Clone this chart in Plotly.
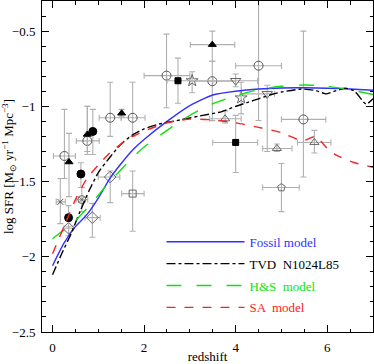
import plotly.graph_objects as go

# ---------------- model curves ----------------
fossil_z = [0, 0.25, 0.5, 0.75, 1.0, 1.25, 1.5, 1.75, 2.0, 2.5, 3.0, 3.5, 4.0, 4.5, 5.0, 5.5, 6.0, 6.5, 7.0]
fossil_v = [-2.06, -1.91, -1.80, -1.72, -1.61, -1.48, -1.38, -1.29, -1.22, -1.10, -0.995, -0.925, -0.90, -0.885,
            -0.878, -0.877, -0.88, -0.885, -0.893]

tvd_z = [0, 0.2, 0.4, 0.6, 0.8, 1.0, 1.25, 1.5, 1.75, 2.0, 2.3, 2.8, 3.2, 3.7, 4.0, 4.25, 4.5, 4.75, 5.0, 5.45,
         5.75, 5.97, 6.2, 6.4, 6.6, 6.85, 7.0]
tvd_v = [-2.12, -1.98, -1.85, -1.70, -1.56, -1.44, -1.34, -1.25, -1.19, -1.15, -1.12, -1.09, -1.065, -1.035, -1.0,
         -0.975, -0.95, -0.925, -0.905, -0.885, -0.895, -0.917, -0.895, -0.88, -0.90, -0.985, -0.95]

hs_z = [0, 0.25, 0.5, 0.75, 1.0, 1.25, 1.5, 1.75, 2.0, 2.5, 3.0, 3.5, 4.0, 4.5, 5.0, 5.5, 6.0, 6.5, 7.0]
hs_v = [-1.88, -1.82, -1.76, -1.68, -1.59, -1.50, -1.42, -1.34, -1.27, -1.16, -1.06, -0.983, -0.93, -0.89,
        -0.867, -0.858, -0.866, -0.89, -0.922]

sa_z = [0, 0.25, 0.5, 0.75, 1.0, 1.25, 1.5, 1.75, 2.0, 2.5, 3.0, 3.5, 4.0, 4.5, 5.0, 5.45, 5.6, 5.75, 6.0, 6.2,
        6.6, 7.0]
sa_v = [-1.98, -1.80, -1.62, -1.48, -1.39, -1.31, -1.25, -1.20, -1.165, -1.11, -1.085, -1.09, -1.11, -1.14,
        -1.175, -1.23, -1.215, -1.20, -1.28, -1.325, -1.375, -1.405]

# ---------------- observational points ----------------
# each: z, value, z_lo, z_hi, v_lo, v_hi  (None = no error bar in that direction)
open_circle = dict(
    z=[0.26, 0.76, 1.26, 1.75, 2.49, 3.49, 4.50, 5.48],
    v=[-1.33, -1.23, -1.076, -1.076, -0.796, -0.833, -0.73, -1.087],
    zlo=[0.02, 0.52, 1.02, 1.50, 2.00, 3.00, 4.00, 5.00],
    zhi=[0.50, 1.02, 1.50, 2.02, 3.00, 4.00, 5.00, 5.97],
    vlo=[-1.48, -1.32, -1.20, -1.20, -1.01, -1.095, -1.094, -1.47],
    vhi=[-1.02, -1.00, -0.84, -0.84, -0.52, -0.70, -0.20, -0.50])
filled_triangle = dict(
    z=[0.36, 0.76, 1.51, 3.49],
    v=[-1.37, -1.187, -1.046, -0.59],
    zlo=[None, None, None, 3.01],
    zhi=[None, None, None, 3.98],
    vlo=[-1.60, -1.30, -1.07, -0.70],
    vhi=[-1.18, -1.00, -1.02, -0.50])
filled_circle = dict(
    z=[0.35, 0.62, 0.88],
    v=[-1.74, -1.45, -1.167],
    zlo=[None, None, None], zhi=[None, None, None],
    vlo=[-1.80, -1.54, -1.32],
    vhi=[-1.66, -1.375, -1.02])
filled_square = dict(
    z=[2.74, 4.00],
    v=[-0.83, -1.24],
    zlo=[2.50, 3.50], zhi=[3.50, 4.48],
    vlo=[-0.98, -1.44], vhi=[-0.68, -1.06])
open_star = dict(
    z=[3.05, 4.12],
    v=[-0.83, -0.944],
    zlo=[None, None], zhi=[None, None],
    vlo=[-0.91, -1.05], vhi=[-0.77, -0.84])
open_tri_down = dict(
    z=[4.00, 4.69],
    v=[-0.83, -0.917],
    zlo=[3.50, 4.10], zhi=[4.48, 4.85],
    vlo=[-0.87, -1.30], vhi=[-0.785, -0.86])
open_tri_up = dict(
    z=[3.77, 4.90, 5.72],
    v=[-1.083, -1.28, -1.24],
    zlo=[3.43, 4.59, 5.35], zhi=[4.12, 5.23, 6.08],
    vlo=[-1.11, -1.30, -1.31], vhi=[-1.03, -1.25, -1.16])
open_pentagon = dict(
    z=[5.0], v=[-1.54], zlo=[4.59], zhi=[5.39], vlo=[-1.70], vhi=[-1.38])
open_square = dict(
    z=[1.75], v=[-1.58], zlo=[1.51], zhi=[2.00], vlo=[-1.83], vhi=[-1.43])
open_diamond = dict(
    z=[1.26, 0.87, 0.35],
    v=[-1.47, -1.74, -1.81],
    zlo=[1.00, 0.71, 0.25], zhi=[1.47, 1.04, 0.45],
    vlo=[-1.64, -1.87, -1.86], vhi=[-1.43, -1.645, -1.76])
open_circle_x = dict(
    z=[0.64], v=[-1.62], zlo=[0.52], zhi=[0.77], vlo=[-1.70], vhi=[-1.54])
cross_pt = dict(
    z=[0.17], v=[-1.635], zlo=[0.08], zhi=[0.28], vlo=[-1.78], vhi=[-1.48])

FONT = "Liberation Serif"
ERR_COL = "#b0b0b0"

fig = go.Figure()


def add_points(d, symbol, color, size, lw=1.0):
    n = len(d["z"])
    with_x = [i for i in range(n) if d["zlo"][i] is not None]
    without_x = [i for i in range(n) if d["zlo"][i] is None]
    for idx, has_x in ((with_x, True), (without_x, False)):
        if not idx:
            continue
        z = [d["z"][i] for i in idx]
        v = [d["v"][i] for i in idx]
        ey = dict(type="data", symmetric=False,
                  array=[d["vhi"][i] - d["v"][i] for i in idx],
                  arrayminus=[d["v"][i] - d["vlo"][i] for i in idx],
                  color=ERR_COL, thickness=1.1, width=3)
        ex = dict(visible=False)
        if has_x:
            ex = dict(type="data", symmetric=False,
                      array=[d["zhi"][i] - d["z"][i] for i in idx],
                      arrayminus=[d["z"][i] - d["zlo"][i] for i in idx],
                      color=ERR_COL, thickness=1.1, width=3)
        fig.add_trace(go.Scatter(
            x=z, y=v, mode="markers", showlegend=False, hoverinfo="skip",
            marker=dict(symbol=symbol, size=size, color=color,
                        line=dict(color=color, width=lw)),
            error_x=ex, error_y=ey))


add_points(open_circle, "circle-open", "#555555", 9)
add_points(open_star, "star-open", "#666666", 9)
add_points(open_tri_down, "triangle-down-open", "#666666", 9)
add_points(open_tri_up, "triangle-up-open", "#666666", 8)
add_points(open_pentagon, "pentagon-open", "#666666", 8)
add_points(open_square, "square-open", "#666666", 7)
add_points(open_diamond, "diamond-open", "#666666", 9)
add_points(open_circle_x, "circle-x-open", "#666666", 8)
add_points(cross_pt, "x-thin-open", "#555555", 6)
add_points(filled_triangle, "triangle-up", "black", 7)
add_points(filled_circle, "circle", "black", 8)
add_points(filled_square, "square", "black", 6)

curves = [
    (fossil_z, fossil_v, "#3030ff", "solid", "Fossil model"),
    (tvd_z, tvd_v, "black", "dashdot", "TVD  N1024L85"),
    (hs_z, hs_v, "#10e010", "longdash", "H&amp;S  model"),
    (sa_z, sa_v, "#ff2020", "dash", "SA  model"),
]
for i, (zz, vv, col, dash, name) in enumerate(curves):
    fig.add_trace(go.Scatter(
        x=zz, y=vv, mode="lines", line=dict(color=col, width=1.4, dash=dash, shape="spline", smoothing=0.6),
        name=f"<span style='color:{col}'>{name}</span>", legendgroup=f"g{i}", hoverinfo="skip"))

axis_common = dict(showline=True, linecolor="black", linewidth=1, mirror="allticks",
                   ticks="inside", ticklen=7, tickwidth=1, tickcolor="black",
                   showgrid=False, zeroline=False, automargin=False,
                   tickfont=dict(family=FONT, size=13, color="black"))

fig.update_layout(
    width=374, height=364,
    margin=dict(l=42, r=1, t=1, b=32),
    paper_bgcolor="white", plot_bgcolor="white",
    font=dict(family=FONT, size=13, color="black"),
    xaxis=dict(range=[-0.23, 7], tick0=0, dtick=2,
               minor=dict(ticks="inside", ticklen=3.5, dtick=0.5, tick0=0, tickcolor="black", showgrid=False),
               title=dict(text="redshift", font=dict(family=FONT, size=13), standoff=7),
               ticklabelstandoff=3, **axis_common),
    yaxis=dict(range=[-2.5, -0.3], tick0=-2.5, dtick=0.5,
               minor=dict(ticks="inside", ticklen=3.5, dtick=0.1, tick0=-2.5, tickcolor="black", showgrid=False),
               title=dict(text="log SFR [M<sub>⊙</sub> yr<sup>−1</sup> Mpc<sup>−3</sup>]",
                          font=dict(family=FONT, size=13), standoff=3),
               ticklabelstandoff=3, **axis_common),
    legend=dict(x=0.361, y=0.318, xanchor="left", yanchor="top", bgcolor="rgba(0,0,0,0)",
                itemwidth=78, tracegroupgap=2, traceorder="grouped",
                font=dict(family=FONT, size=13)),
)

fig.write_html("out.html", config={"displayModeBar": False, "staticPlot": True},
               post_script="document.body.style.margin='0px';")
